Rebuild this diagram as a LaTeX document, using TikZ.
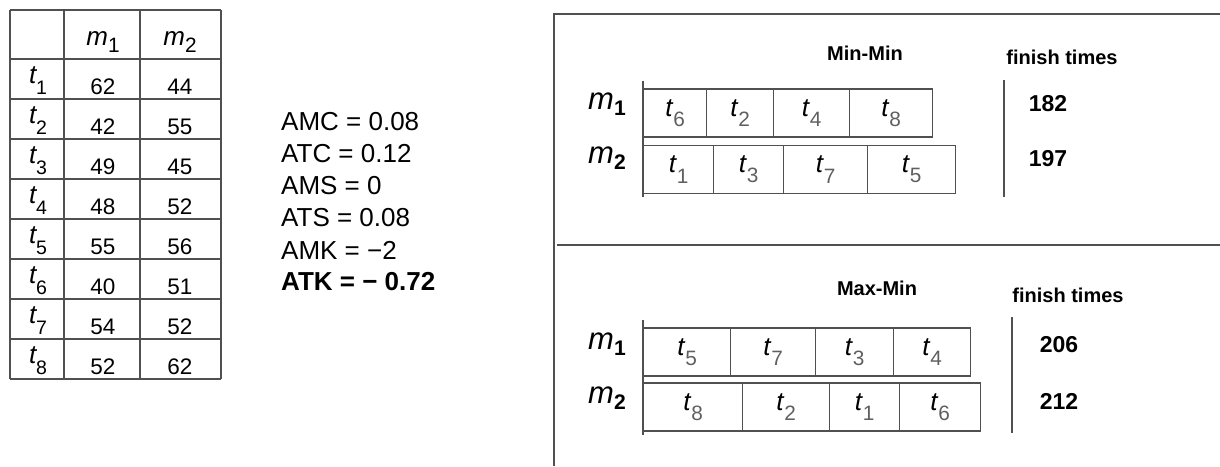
\documentclass[tikz,border=0pt]{standalone}
\usepackage{fontspec}
\setmainfont{Liberation Sans}
\usetikzlibrary{positioning}
\definecolor{linegray}{RGB}{80,80,80}
\definecolor{subgray}{RGB}{95,95,95}

% task and machine symbols with a small lowered index
\newcommand{\tjob}[1]{\textit{t}\kern-1pt\raisebox{-0.8ex}{\scalebox{0.75}{#1}}}
\newcommand{\tcell}[1]{\textit{t}\raisebox{-0.75ex}{\scalebox{0.8}{\color{subgray}#1}}}
\newcommand{\mhead}[1]{\textit{m}\raisebox{-0.55ex}{\scalebox{0.8}{#1}}}
\newcommand{\mlabel}[1]{\textit{m}\raisebox{-0.35ex}{\scalebox{0.68}{\bfseries #1}}}

\begin{document}
\begin{tikzpicture}[x=1pt, y=-1pt,
    grid/.style={draw=linegray, line width=1.5pt},
    frame/.style={draw=linegray, line width=1.6pt},
    axis/.style={draw=linegray, line width=1.6pt},
    tlabel/.style={inner sep=0, font=\fontsize{26}{26}\selectfont},
    num/.style={inner sep=0, font=\fontsize{22.5}{22.5}\selectfont},
    stat/.style={inner sep=0, anchor=west, font=\fontsize{26}{26}\selectfont},
    cell/.style={draw=linegray, line width=1.3pt, inner sep=0, anchor=west,
                 minimum height=48pt, font=\fontsize{26}{26}\selectfont},
    mach/.style={inner sep=0, font=\fontsize{31}{31}\selectfont},
    title/.style={inner sep=0, font=\fontsize{20}{20}\selectfont\bfseries},
    finish/.style={inner sep=0, font=\fontsize{23}{23}\selectfont\bfseries}]

    \useasboundingbox (0,0) rectangle (1220,466);

    % ETC table
    \foreach \x in {10,64,140,221}
        \draw[grid] (\x,10) -- (\x,379);
    \foreach \y in {10,59,99,139,179,219,259,299,339,379}
        \draw[grid] (10,\y) -- (221,\y);
    \node[tlabel] (hm1) at (103,42) {\mhead{1}};
    \node[tlabel] (hm2) at (180,42) {\mhead{2}};
    \foreach \a/\b [count=\i] in {62/44, 42/55, 49/45, 48/52, 55/56, 40/51, 54/52, 52/62} {
        \node[tlabel] (t\i) at (38,{41+40*\i}) {\tjob{\i}};
        \node[num] (e\i m1) at (103,{47+40*\i}) {\a};
        \node[num] (e\i m2) at (180,{47+40*\i}) {\b};
    }

    % heterogeneity measures
    \foreach \txt [count=\i] in {AMC = 0.08, ATC = 0.12, AMS = 0, ATS = 0.08, AMK = −2}
        \node[stat] (stat\i) at (281,{122+32*(\i-1)}) {\txt};
    \node[stat, font=\fontsize{26}{26}\selectfont\bfseries] (stat6) at (281,282) {ATK = − 0.72};

    % schedule frame
    \draw[frame] (1220,14) -- (554,14) -- (554,466);
    \draw[frame] (557,245) -- (1220,245);

    % Min-Min schedule
    \node[title] (mintitle) at (865,53) {Min-Min};
    \node[title] (minfin) at (1062,57) {finish times};
    \node[mach] (minm1) at (607,104) {\mlabel{1}};
    \node[mach] (minm2) at (607,158) {\mlabel{2}};
    \coordinate (minaxtop) at (643,81);
    \coordinate (minaxbot) at (643,197);
    \draw[axis] (minaxtop) -- (minaxbot);
    \foreach \l/\r/\j [count=\i] in {643/706/6, 706/773/2, 773/849/4, 849/932/8}
        \node[cell, minimum width=\r-\l] (minA\i) at (\l,113) {\tcell{\j}};
    \foreach \l/\r/\j [count=\i] in {643/713/1, 713/783/3, 783/867/7, 867/955/5}
        \node[cell, minimum width=\r-\l] (minB\i) at (\l,169.5) {\tcell{\j}};
    \coordinate (minbartop) at (1004,80);
    \coordinate (minbarbot) at (1004,197);
    \draw[axis] (minbartop) -- (minbarbot);
    \node[finish] (minf1) at (1048,104) {182};
    \node[finish] (minf2) at (1048,159) {197};

    % Max-Min schedule
    \node[title] (maxtitle) at (877,288) {Max-Min};
    \node[title] (maxfin) at (1068,295) {finish times};
    \node[mach] (maxm1) at (607,344) {\mlabel{1}};
    \node[mach] (maxm2) at (607,398) {\mlabel{2}};
    \coordinate (maxaxtop) at (643,320);
    \coordinate (maxaxbot) at (643,435);
    \draw[axis] (maxaxtop) -- (maxaxbot);
    \foreach \l/\r/\j [count=\i] in {643/730/5, 730/815/7, 815/893/3, 893/970/4}
        \node[cell, minimum width=\r-\l] (maxA\i) at (\l,352) {\tcell{\j}};
    \foreach \l/\r/\j [count=\i] in {643/742/8, 742/829/2, 829/899/1, 899/980/6}
        \node[cell, minimum width=\r-\l] (maxB\i) at (\l,407) {\tcell{\j}};
    \coordinate (maxbartop) at (1012,317);
    \coordinate (maxbarbot) at (1012,433);
    \draw[axis] (maxbartop) -- (maxbarbot);
    \node[finish] (maxf1) at (1059,345) {206};
    \node[finish] (maxf2) at (1059,401) {212};
\end{tikzpicture}
\end{document}
